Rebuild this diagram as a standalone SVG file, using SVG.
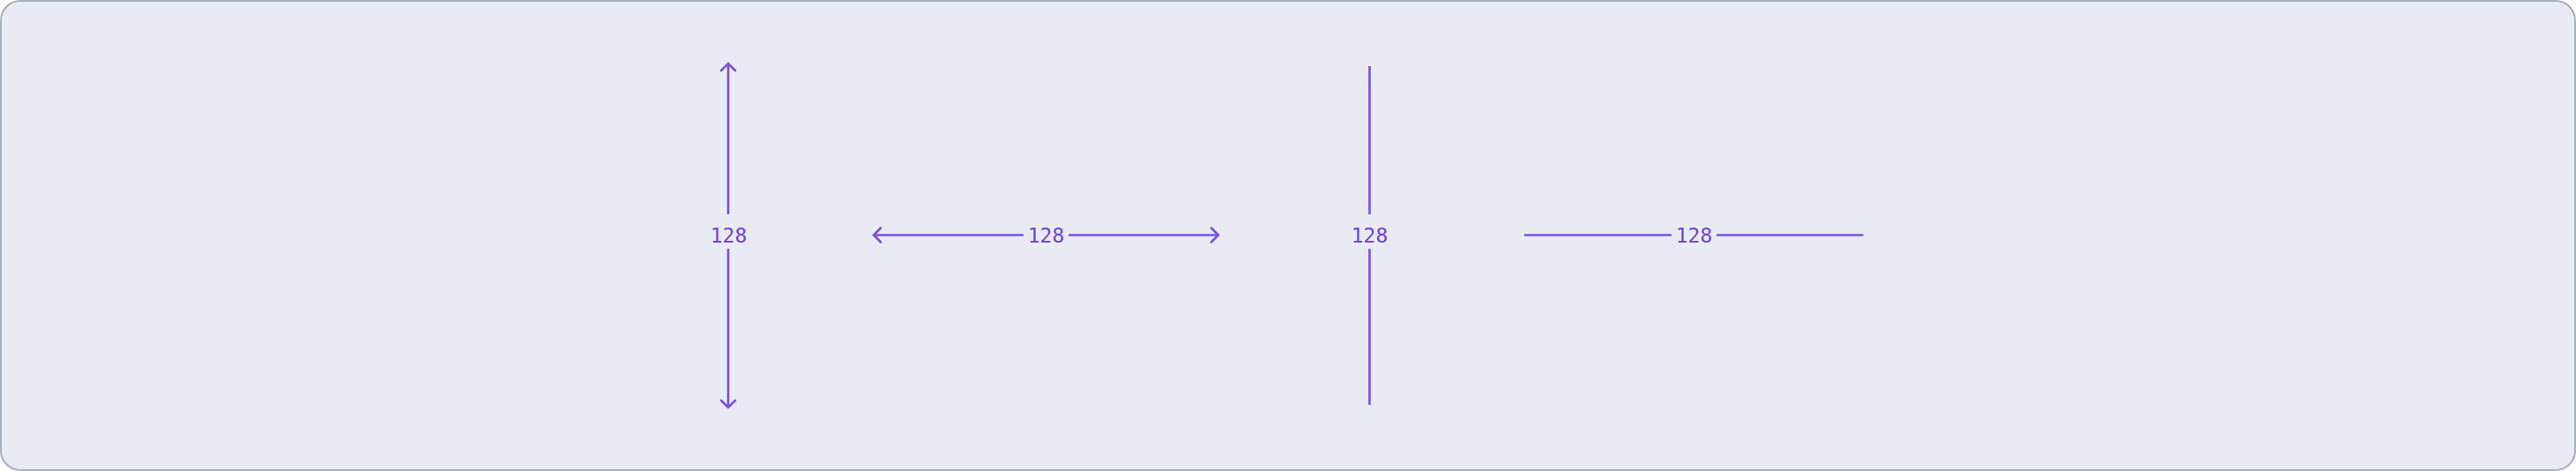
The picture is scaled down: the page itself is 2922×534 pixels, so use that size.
<svg xmlns="http://www.w3.org/2000/svg" width="2922" height="534" viewBox="0 0 2922 534">
<defs>
<style>
.ln{stroke:#7d4fe0;stroke-width:2.6;fill:none;stroke-linecap:butt}
.hd{stroke:#7d4fe0;stroke-width:2.6;fill:none;stroke-linecap:round;stroke-linejoin:miter}
.lb{font-family:"DejaVu Sans Mono","Liberation Mono",monospace;font-size:23px;fill:#7444d8;text-anchor:middle}
</style>
</defs>
<rect x="1" y="1" width="2920" height="532" rx="22" ry="22" fill="#e8ebf3" stroke="#a6b1bd" stroke-width="2"/>
<g id="connectors">
<g id="dim-v-arrows">
<line class="ln" x1="826" y1="73" x2="826" y2="243"/>
<line class="ln" x1="826" y1="282" x2="826" y2="461"/>
<polyline class="hd" points="818,80 826,72 834,80"/>
<polyline class="hd" points="818,454 826,462 834,454"/>
</g>
<g id="dim-h-arrows">
<line class="ln" x1="992" y1="266.5" x2="1161" y2="266.5"/>
<line class="ln" x1="1212" y1="266.5" x2="1381" y2="266.5"/>
<polyline class="hd" points="999,258.5 991,266.5 999,274.5"/>
<polyline class="hd" points="1374,258.5 1382,266.5 1374,274.5"/>
</g>
<g id="dim-v-plain">
<line class="ln" x1="1553.5" y1="75" x2="1553.5" y2="243"/>
<line class="ln" x1="1553.5" y1="282" x2="1553.5" y2="459"/>
</g>
<g id="dim-h-plain">
<line class="ln" x1="1729" y1="266.5" x2="1896" y2="266.5"/>
<line class="ln" x1="1947" y1="266.5" x2="2113.5" y2="266.5"/>
</g>
</g>
<g id="label-1"><text class="lb" x="826.5" y="275">128</text></g>
<g id="label-2"><text class="lb" x="1186.5" y="275">128</text></g>
<g id="label-3"><text class="lb" x="1553.5" y="275">128</text></g>
<g id="label-4"><text class="lb" x="1921.5" y="275">128</text></g>
</svg>
